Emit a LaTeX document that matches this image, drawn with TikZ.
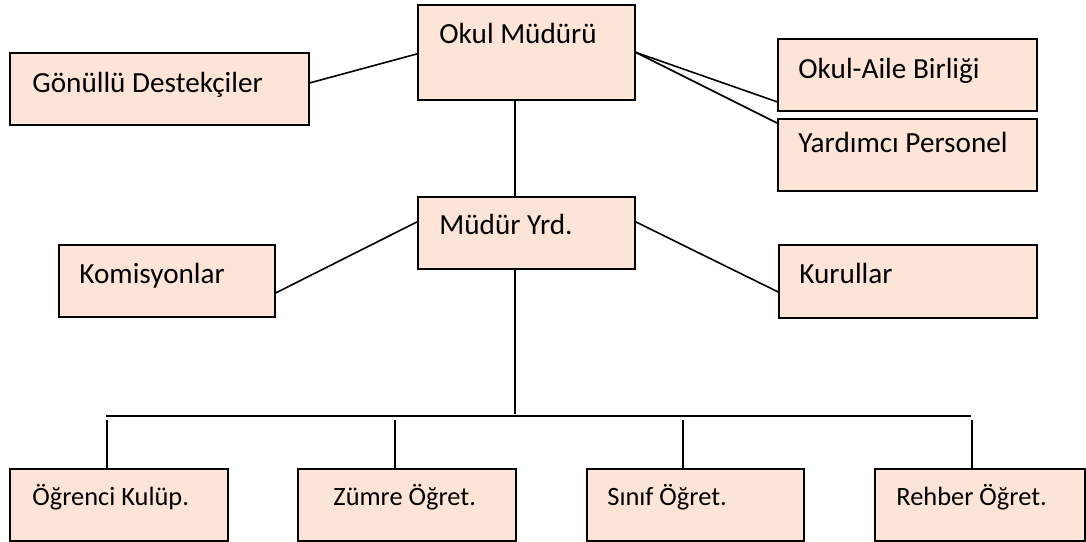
\documentclass[tikz,border=0pt]{standalone}
\usepackage{fontspec}
\setmainfont{Carlito}
\usepackage{tikz}
\definecolor{somon}{RGB}{252,228,214}
\tikzstyle{kutu}=[draw, line width=0.9pt, fill=somon, anchor=north west, inner sep=0pt]
\tikzstyle{yazi}=[anchor=base west, inner sep=0pt, font=\fontsize{14.6}{17}\selectfont]
\tikzstyle{altyazi}=[yazi, font=\fontsize{13.2}{15}\selectfont]
\tikzstyle{hat}=[line width=0.8pt]

\begin{document}
\begin{tikzpicture}[x=0.5pt,y=-0.5pt]
\useasboundingbox (0,0) rectangle (1086,541);

% ust kisim
\node[kutu, minimum width=108.5pt, minimum height=47.5pt] (mudur) at (417,4) {};
\node[yazi] (mudur yazi) at ([shift={(22,39)}]mudur.north west) {Okul Müdürü};

\node[kutu, minimum width=149.5pt, minimum height=36pt] (gonullu) at (9,52) {};
\node[yazi] (gonullu yazi) at ([shift={(23,40)}]gonullu.north west) {Gönüllü Destekçiler};

\node[kutu, minimum width=129.5pt, minimum height=36pt] (okulaile) at (777,38) {};
\node[yazi] (okulaile yazi) at ([shift={(21,40)}]okulaile.north west) {Okul-Aile Birliği};

\node[kutu, minimum width=129.5pt, minimum height=36pt] (yardimci) at (777,118) {};
\node[yazi] (yardimci yazi) at ([shift={(21,34)}]yardimci.north west) {Yardımcı Personel};

% orta kisim
\node[kutu, minimum width=108.5pt, minimum height=36pt] (yrd) at (417,196) {};
\node[yazi] (yrd yazi) at ([shift={(22,38)}]yrd.north west) {Müdür Yrd.};

\node[kutu, minimum width=108pt, minimum height=36pt] (komisyon) at (58,244) {};
\node[yazi] (komisyon yazi) at ([shift={(21,39)}]komisyon.north west) {Komisyonlar};

\node[kutu, minimum width=129pt, minimum height=36.5pt] (kurullar) at (778,244) {};
\node[yazi] (kurullar yazi) at ([shift={(21,39)}]kurullar.north west) {Kurullar};

\draw[hat] ([yshift=3pt]gonullu.east) -- ([yshift=-0.75pt]mudur.west);
\draw[hat] (mudur.east) -- ([yshift=5pt]okulaile.south west);
\draw[hat] (mudur.east) -- ([yshift=-2.5pt]yardimci.north west);
\draw[hat] ([xshift=-5.75pt]mudur.south) -- ([xshift=-5.75pt]yrd.north);
\draw[hat] ([yshift=5.5pt]yrd.west) -- ([yshift=-6pt]komisyon.east);
\draw[hat] ([yshift=5.5pt]yrd.east) -- ([yshift=-5.25pt]kurullar.west);

% alt kisim
\draw[hat] ([xshift=-5.75pt]yrd.south) -- ++(0,144);
\coordinate (bus sol) at (106,416);
\coordinate (bus sag) at (971,416);
\draw[hat] (bus sol) -- (bus sag);

\foreach \ad/\x/\w/\dx/\kay/\metin in {ogrenci/9/109/23/-6/Öğrenci Kulüp., zumre/297/109/36/-6/Zümre Öğret., sinif/586/108.5/21/-6.25/Sınıf Öğret., rehber/874/105/22/-4/Rehber Öğret.}
{
  \node[kutu, minimum width=\w pt, minimum height=36pt] (\ad) at (\x,468) {};
  \node[altyazi] (\ad yazi) at ([shift={(\dx,37)}]\ad.north west) {\metin};
  \draw[hat] ([xshift=\kay pt]\ad.north) -- ++(0,-48);
}

\end{tikzpicture}
\end{document}
